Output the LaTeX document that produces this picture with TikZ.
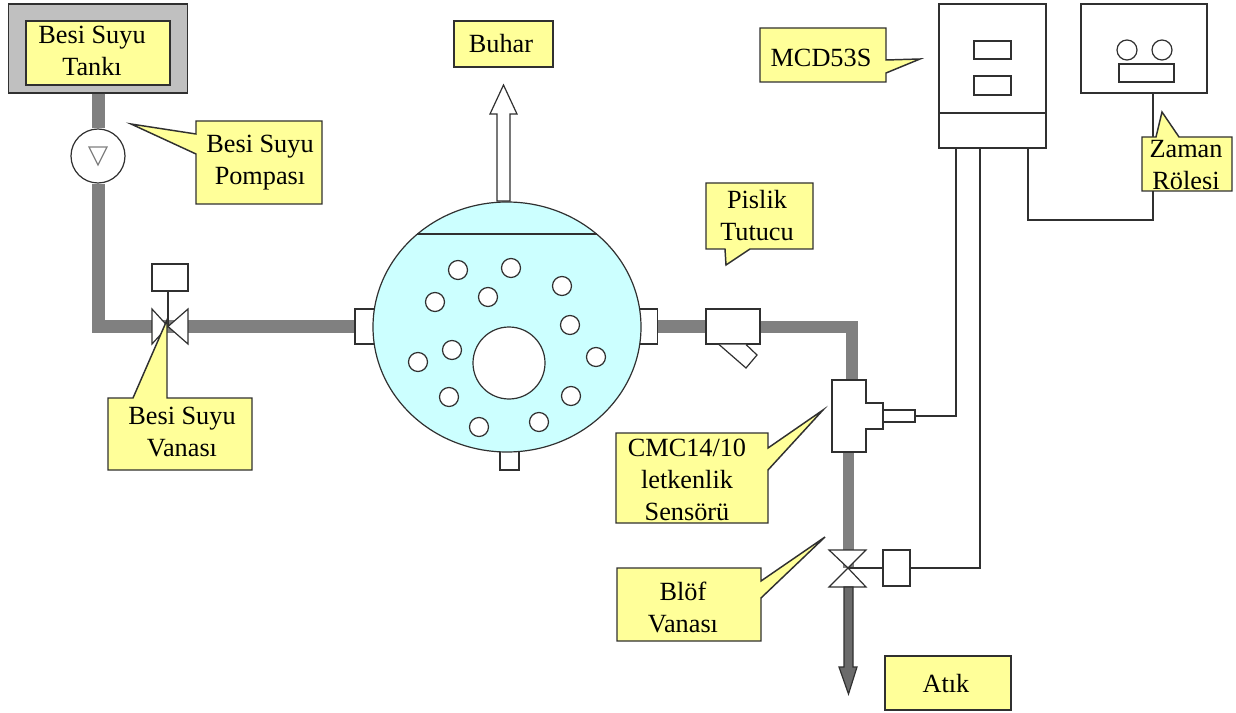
\documentclass[tikz,border=0pt]{standalone}
\usepackage{fontspec}
\setmainfont{Liberation Serif}
\usepackage{xcolor}
\usetikzlibrary{shapes.geometric}
\definecolor{notecolor}{HTML}{FFFF99}
\definecolor{tankcolor}{HTML}{C0C0C0}
\definecolor{pipecolor}{HTML}{808080}
\definecolor{watercolor}{HTML}{CCFFFF}
\definecolor{linecolor}{HTML}{303030}
\tikzset{
  boxsize/.style 2 args={minimum width=#1*0.75pt, minimum height=#2*0.75pt},
  partbox/.style={draw=linecolor, line width=0.9pt, fill=white, inner sep=0pt},
  pipe/.style={draw=pipecolor, line width=9.75pt},
  wire/.style={draw=linecolor, line width=0.9pt},
  notebox/.style={draw=linecolor, line width=1.1pt, fill=notecolor, line join=miter},
  notetext/.style={font=\fontsize{19.7}{24}\selectfont, align=center, inner sep=0pt},
}

\begin{document}
\begin{tikzpicture}[x=0.75pt, y=-0.75pt]
  \useasboundingbox (0,0) rectangle (1236,713);

  % Tank and pump
  \node[partbox, fill=tankcolor, boxsize={179}{89}] (tank) at (98,48.5) {};
  \node[partbox, circle, boxsize={54}{54}] (pump) at (98,156) {};
  \draw[draw=gray, line width=0.9pt] (89,147) -- (107,147) -- (98,165) -- cycle;

  % Boiler
  \node[partbox, boxsize={25}{35}] (flangeleft) at (367.5,326.5) {};
  \node[partbox, boxsize={25}{35}] (flangeright) at (645,326.5) {};
  \node[partbox, boxsize={19}{24}] (drain) at (509.5,458) {};
  \node[partbox, ellipse, fill=watercolor, boxsize={268}{250}] (boiler) at (507,327) {};
  \draw[wire] (417,234) -- (597,234);
  \node[partbox, circle, boxsize={72}{72}] (core) at (509,363) {};
  \foreach \px/\py [count=\i] in {458/270, 511/268, 562/286, 435/302, 488/297, 570/325,
      452/350, 418/362, 596/357, 449/397, 571/396, 479/427, 539/422}
    \node[partbox, circle, boxsize={19}{19}] (bubble\i) at (\px,\py) {};

  % Steam outlet
  \draw[partbox] (503.5,85) -- (517,114) -- (510,114) -- (510,201) -- (497,201) -- (497,114) -- (490,114) -- cycle;

  % Instruments
  \node[partbox, boxsize={107}{144}] (mcd) at (992.5,76) {};
  \draw[wire] (939,113) -- (1046,113);
  \node[partbox, boxsize={37}{18}] (mcdtop) at (992.5,50) {};
  \node[partbox, boxsize={37}{19}] (mcdlow) at (992.5,85.5) {};
  \node[partbox, boxsize={126}{89}] (relay) at (1144,48.5) {};
  \node[partbox, circle, boxsize={20}{20}] (dialleft) at (1127,50) {};
  \node[partbox, circle, boxsize={20}{20}] (dialright) at (1162,50) {};
  \node[partbox, boxsize={55}{18}] (relaydisplay) at (1146.5,73) {};

  % Fittings on the line
  \node[partbox, boxsize={54}{35}] (trap) at (733,326.5) {};
  \draw[partbox] (719,344.5) -- (746,368) -- (757,355) -- (746,344.5);
  \coordinate (feedvalve) at (168,326.5);
  \coordinate (blowvalve) at (848,568);
  \coordinate (sensortop) at (852,380);
  \coordinate (sensorlow) at (848,452);
  \node[partbox, boxsize={36}{27}] (feedact) at (170,277.5) {};
  \node[partbox, boxsize={27}{36}] (blowact) at (896.5,568) {};
  \node[partbox, boxsize={32}{12}] (probe) at (899,416) {};

  % Pipes
  \draw[pipe] (tank.south) -- (pump.north);
  \draw[pipe] (pump.south) |- (feedvalve) -- (flangeleft.west);
  \draw[pipe] (flangeright.east) -- (trap.west);
  \draw[pipe, line width=9pt] (trap.east) -| (sensortop);
  \draw[pipe, line width=8.25pt] (sensorlow) -- (blowvalve);

  % Wires
  \coordinate (wireone) at (956,148);
  \coordinate (wiretwo) at (980,148);
  \coordinate (wirethree) at (1028,148);
  \coordinate (wirebend) at (1028,220);
  \coordinate (relayout) at (1153,93);
  \draw[wire] (probe.east) -| (wireone);
  \draw[wire] (blowact.east) -| (wiretwo);
  \draw[wire] (wirethree) -- (wirebend) -| (relayout);
  \draw[wire] (feedact.south -| feedvalve) -- (feedvalve);
  \draw[wire] (blowvalve) -- (blowact.west);

  % Sensor body
  \draw[partbox] (832,380) -- (866,380) -- (866,403) -- (883,403) -- (883,429) -- (866,429) -- (866,452) -- (832,452) -- cycle;

  % Valves
  \draw[partbox] (feedvalve) -- (152,309) -- (152,344) -- cycle;
  \draw[partbox] (feedvalve) -- (188,309) -- (188,344) -- cycle;
  \draw[partbox] (blowvalve) -- (829,550) -- (866,550) -- cycle;
  \draw[partbox] (blowvalve) -- (829,587) -- (866,587) -- cycle;
  \draw[draw=linecolor, line width=0.9pt, fill=black!58] (844,587) -- (853,587) -- (853,667) -- (857,667) -- (848.5,694) -- (839,667) -- (844,667) -- cycle;

  % Labels
  \node[notebox, boxsize={144}{64}] (tanknote) at (98,53) {};
  \node[notetext] (tanktext) at (92,51) {Besi Suyu\\Tankı};

  \draw[notebox] (196,121) -- (322,121) -- (322,204) -- (196,204) -- (196,154) -- (131,124) -- (196,134) -- cycle;
  \node[notetext] (pumptext) at (260,163) {Besi Suyu\\Pompası};

  \draw[notebox] (108,398) -- (133,398) -- (167,320) -- (167,398) -- (252,398) -- (252,470) -- (108,470) -- cycle;
  \node[notetext] (valvetext) at (182,432) {Besi Suyu\\Vanası};

  \node[notebox, boxsize={99}{46}] (steamnote) at (503.5,44) {};
  \node[notetext] (steamtext) at (501,44) {Buhar};

  \draw[notebox] (706,183) -- (813,183) -- (813,249) -- (750,249) -- (726,265) -- (725,249) -- (706,249) -- cycle;
  \node[notetext] (traptext) at (757,216) {Pislik\\Tutucu};

  \draw[notebox] (760,28) -- (886,28) -- (886,60) -- (920,59) -- (886,73) -- (886,82) -- (760,82) -- cycle;
  \node[notetext] (mcdtext) at (821,58) {MCD53S};

  \draw[notebox] (1142,137) -- (1156,137) -- (1162,112) -- (1179,137) -- (1232,137) -- (1232,191) -- (1142,191) -- cycle;
  \node[notetext] (relaytext) at (1186,165) {Zaman\\Rölesi};

  \draw[notebox] (616,433) -- (768,433) -- (768,448) -- (823,410) -- (768,470) -- (768,523) -- (616,523) -- cycle;
  \node[notetext] (sensortext) at (687,480) {CMC14/10\\letkenlik\\Sensörü};

  \draw[notebox] (617,568) -- (761,568) -- (761,581) -- (825,537) -- (761,598) -- (761,641) -- (617,641) -- cycle;
  \node[notetext] (blowtext) at (683,607) {Blöf\\Vanası};

  \node[notebox, boxsize={126}{54}] (wastenote) at (948,683) {};
  \node[notetext] (wastetext) at (946,684) {Atık};
\end{tikzpicture}
\end{document}
